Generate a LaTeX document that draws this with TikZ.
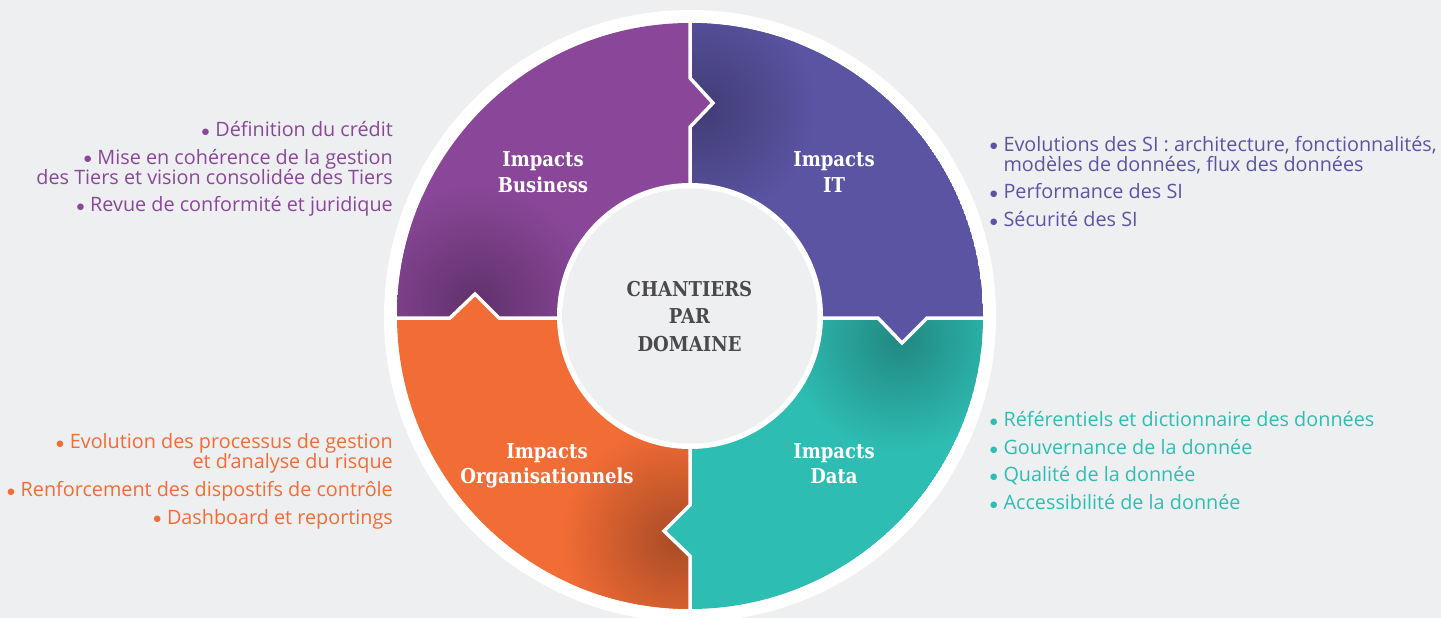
\documentclass[tikz,border=0pt]{standalone}
\usepackage{fontspec}
\setmainfont{Open Sans}
\newfontfamily\labelfont[FakeStretch=0.88]{DejaVu Serif}
\newfontfamily\bulletfont{DejaVu Sans}

\definecolor{pagebg}{HTML}{EEEFF1}
\definecolor{bizpurple}{HTML}{8A4799}
\definecolor{itblue}{HTML}{5B54A3}
\definecolor{datateal}{HTML}{2EBDB3}
\definecolor{orgorange}{HTML}{F26C35}
\definecolor{hubgray}{HTML}{4A4A4C}
\definecolor{hubrim}{HTML}{626265}
\definecolor{hubmid}{HTML}{BABBBD}

\pgfdeclareradialshading{rimshade}{\pgfpointorigin}{%
	color(0bp)=(pagebg); color(29bp)=(pagebg); color(42bp)=(hubmid); color(50bp)=(hubrim)}

\newcommand{\itembullet}{\raisebox{2.2pt}{\bulletfont\fontsize{8.5}{10}\selectfont ●}\hspace{0.3em}}

\tikzset{
	seglabel/.style={
		text=white,
		font=\labelfont\bfseries\fontsize{20.5}{25}\selectfont,
		anchor=base,
		inner sep=0pt
	},
	hublabel/.style={
		seglabel,
		text=hubgray
	},
	itemleft/.style={
		font=\fontsize{19.8}{20}\selectfont,
		align=right,
		anchor=base east,
		inner sep=0pt
	},
	itemright/.style={
		itemleft,
		align=left,
		anchor=base west
	},
	divider/.style={
		draw=white,
		line width=3.5pt,
		line join=miter
	},
}

\begin{document}
\begin{tikzpicture}[x=1pt,y=-1pt]

% Background
\fill[pagebg] (0,0) rectangle (1441,618);
\useasboundingbox (0,0) rectangle (1441,618);

\coordinate (hub) at (690,316);
\coordinate (O) at (690,318);
% notches
\coordinate (T1) at (690,127); \coordinate (T2) at (713,103); \coordinate (T3) at (690,78);
\coordinate (R1) at (878,318); \coordinate (R2) at (902,343); \coordinate (R3) at (927,318);
\coordinate (B1) at (690,505); \coordinate (B2) at (664,531); \coordinate (B3) at (690,556);
\coordinate (L1) at (499,318); \coordinate (L2) at (475,294); \coordinate (L3) at (450,318);

% Outer ring
\fill[white] (hub) circle (306pt);

% Business
\begin{scope}
	\clip (hub) circle (293pt);
	\clip (O) -- (T1) -- (T2) -- (T3) -- (690,0) -- (380,0) -- (380,318) -- (L3) -- (L2) -- (L1) -- cycle;
	\fill[bizpurple] (hub) circle (293pt);
	\shade[inner color=bizpurple!70!black, outer color=bizpurple] (476,304) circle (120pt);
\end{scope}

% IT
\begin{scope}
	\clip (hub) circle (293pt);
	\clip (O) -- (T1) -- (T2) -- (T3) -- (690,0) -- (1000,0) -- (1000,318) -- (R3) -- (R2) -- (R1) -- cycle;
	\fill[itblue] (hub) circle (293pt);
	\shade[inner color=itblue!72!black, outer color=itblue] (702,108) circle (115pt);
\end{scope}

% Data
\begin{scope}
	\clip (hub) circle (293pt);
	\clip (O) -- (R1) -- (R2) -- (R3) -- (1000,318) -- (1000,618) -- (690,618) -- (B3) -- (B2) -- (B1) -- cycle;
	\fill[datateal] (hub) circle (293pt);
	\shade[inner color=datateal!72!black, outer color=datateal] (900,338) circle (115pt);
\end{scope}

% Organisation
\begin{scope}
	\clip (hub) circle (293pt);
	\clip (O) -- (B1) -- (B2) -- (B3) -- (690,618) -- (380,618) -- (380,318) -- (L3) -- (L2) -- (L1) -- cycle;
	\fill[orgorange] (hub) circle (293pt);
	\shade[inner color=orgorange!70!black, outer color=orgorange] (676,540) circle (115pt);
\end{scope}

% Dividers
\draw[divider] (O) -- (T1) -- (T2) -- (T3) -- (690,14);
\draw[divider] (O) -- (R1) -- (R2) -- (R3) -- (992,318);
\draw[divider] (O) -- (B1) -- (B2) -- (B3) -- (690,618);
\draw[divider] (O) -- (L1) -- (L2) -- (L3) -- (388,318);

% Hub
\fill[white] (hub) circle (133pt);
\shade[shading=rimshade] (hub) circle (127.5pt);
\node[hublabel] (hubA) at (689.5,296.5) {CHANTIERS};
\node[hublabel] (hubB) at (689.5,323.5) {PAR};
\node[hublabel] (hubC) at (689.5,351) {DOMAINE};

% Segment labels
\node[seglabel] (bizA) at (543,166) {Impacts};
\node[seglabel] (bizB) at (543,192) {Business};
\node[seglabel] (itA) at (834,166) {Impacts};
\node[seglabel] (itB) at (834,192) {IT};
\node[seglabel] (orgA) at (547,458) {Impacts};
\node[seglabel] (orgB) at (547,483.5) {Organisationnels};
\node[seglabel] (dataA) at (834,458) {Impacts};
\node[seglabel] (dataB) at (834,483.5) {Data};

% Business items
\foreach \y/\t [count=\i] in {
	136.5/{\itembullet Définition du crédit},
	184/{\itembullet Mise en cohérence de la gestion\\des Tiers et vision consolidée des Tiers},
	211.5/{\itembullet Revue de conformité et juridique}}
	\node[itemleft, text=bizpurple] (biz\i) at (393,\y) {\t};

% IT items
\foreach \y/\t [count=\i] in {
	171/{\itembullet Evolutions des SI : architecture, fonctionnalités,\\\phantom{\itembullet}modèles de données, flux des données},
	198.5/{\itembullet Performance des SI},
	226.5/{\itembullet Sécurité des SI}}
	\node[itemright, text=itblue] (it\i) at (990,\y) {\t};

% Organisation items
\foreach \y/\t [count=\i] in {
	468.5/{\itembullet Evolution des processus de gestion\\et d'analyse du risque},
	496.5/{\itembullet Renforcement des dispostifs de contrôle},
	524/{\itembullet Dashboard et reportings}}
	\node[itemleft, text=orgorange] (org\i) at (393,\y) {\t};

% Data items
\foreach \y/\t [count=\i] in {
	426.5/{\itembullet Référentiels et dictionnaire des données},
	454.5/{\itembullet Gouvernance de la donnée},
	481.5/{\itembullet Qualité de la donnée},
	509.5/{\itembullet Accessibilité de la donnée}}
	\node[itemright, text=datateal] (data\i) at (990,\y) {\t};

\end{tikzpicture}
\end{document}
